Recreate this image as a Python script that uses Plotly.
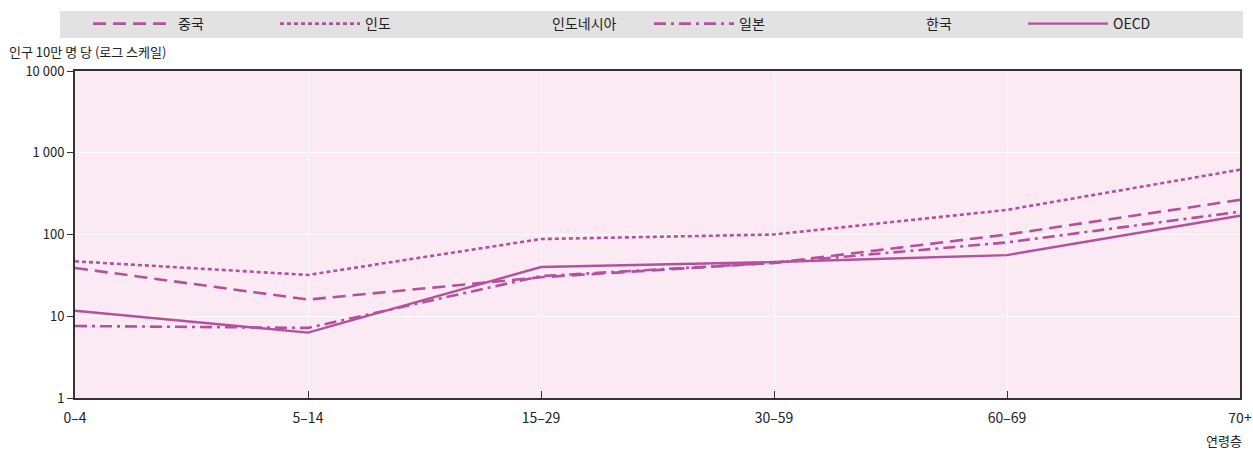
import plotly.graph_objects as go

age_groups = ["0–4", "5–14", "15–29", "30–59", "60–69", "70+"]
china = [39, 16, 30, 45, 100, 265]
india = [47, 32, 88, 100, 200, 620]
indonesia = [None] * 6
japan = [7.6, 7.2, 31, 45, 80, 190]
korea = [None] * 6
oecd = [11.7, 6.3, 40, 46, 56, 170]

y_tickvals = [1, 10, 100, 1000, 10000]
y_ticktext = ["1", "10", "100", "1 000", "10 000"]

C = "#b4519f"
FONT = "Noto Sans CJK KR"

series = [
    ("중국", china, dict(color=C, width=2.6, dash="13px,7px")),
    ("인도", india, dict(color=C, width=2.6, dash="4px,3px")),
    ("인도네시아", indonesia, dict(color="rgba(0,0,0,0)", width=2.6)),
    ("일본", japan, dict(color=C, width=2.6, dash="12px,5px,3px,5px")),
    ("한국", korea, dict(color="rgba(0,0,0,0)", width=2.6)),
    ("OECD", oecd, dict(color=C, width=2.4)),
]

fig = go.Figure()
for name, vals, line in series:
    fig.add_trace(go.Scatter(x=age_groups, y=vals, name=name, mode="lines",
                             line=line, showlegend=True))

W, H = 1253, 455
L, R, T, B = 75, 13, 71, 57
pw, ph = W - L - R, H - T - B

def px_x(x):
    return (x - L) / pw

def px_y(y):
    return (H - B - y) / ph

fig.add_shape(type="rect", xref="paper", yref="paper",
              x0=px_x(60), x1=px_x(1243), y0=px_y(38), y1=px_y(11),
              fillcolor="#e2e2e2", line_width=0, layer="below")

fig.add_annotation(text="인구 10만 명 당 (로그 스케일)", xref="paper", yref="paper",
                   x=px_x(7), y=px_y(52), xanchor="left", yanchor="middle",
                   showarrow=False, font=dict(family=FONT, size=13, color="#222"))
fig.add_annotation(text="연령층", xref="paper", yref="paper",
                   x=px_x(1244), y=px_y(440), xanchor="right", yanchor="middle",
                   showarrow=False, font=dict(family=FONT, size=13, color="#222"))

fig.update_layout(
    width=W, height=H,
    margin=dict(l=L, r=R, t=T, b=B, autoexpand=False),
    paper_bgcolor="white",
    plot_bgcolor="#fbe9f3",
    font=dict(family=FONT, size=13, color="#222"),
    legend=dict(orientation="h", xref="container", yref="container",
                x=88 / W, y=1 - 24 / H, xanchor="left", yanchor="middle",
                entrywidth=92, entrywidthmode="pixels",
                bgcolor="rgba(0,0,0,0)", font=dict(family=FONT, size=14, color="#222"),
                itemwidth=80),
    xaxis=dict(type="category", range=[0, 5], showgrid=True,
               gridcolor="rgba(255,255,255,0.9)", gridwidth=1,
               showline=True, linecolor="#333", linewidth=2, mirror=True,
               ticks="inside", ticklen=7, tickcolor="#333", tickwidth=1,
               tickfont=dict(family=FONT, size=14, color="#222"), ticklabelstandoff=6,
               zeroline=False),
    yaxis=dict(type="log", range=[0, 4], tickvals=y_tickvals, ticktext=y_ticktext,
               showgrid=True, gridcolor="rgba(255,255,255,0.9)", gridwidth=1,
               showline=True, linecolor="#333", linewidth=2, mirror=True,
               ticks="outside", ticklen=6, tickcolor="#333", tickwidth=1,
               tickfont=dict(family=FONT, size=13, color="#222"),
               zeroline=False),
)

fig.write_html("out.html", config={"displayModeBar": False},
               post_script="document.body.style.margin='0';document.body.style.overflow='hidden';")
